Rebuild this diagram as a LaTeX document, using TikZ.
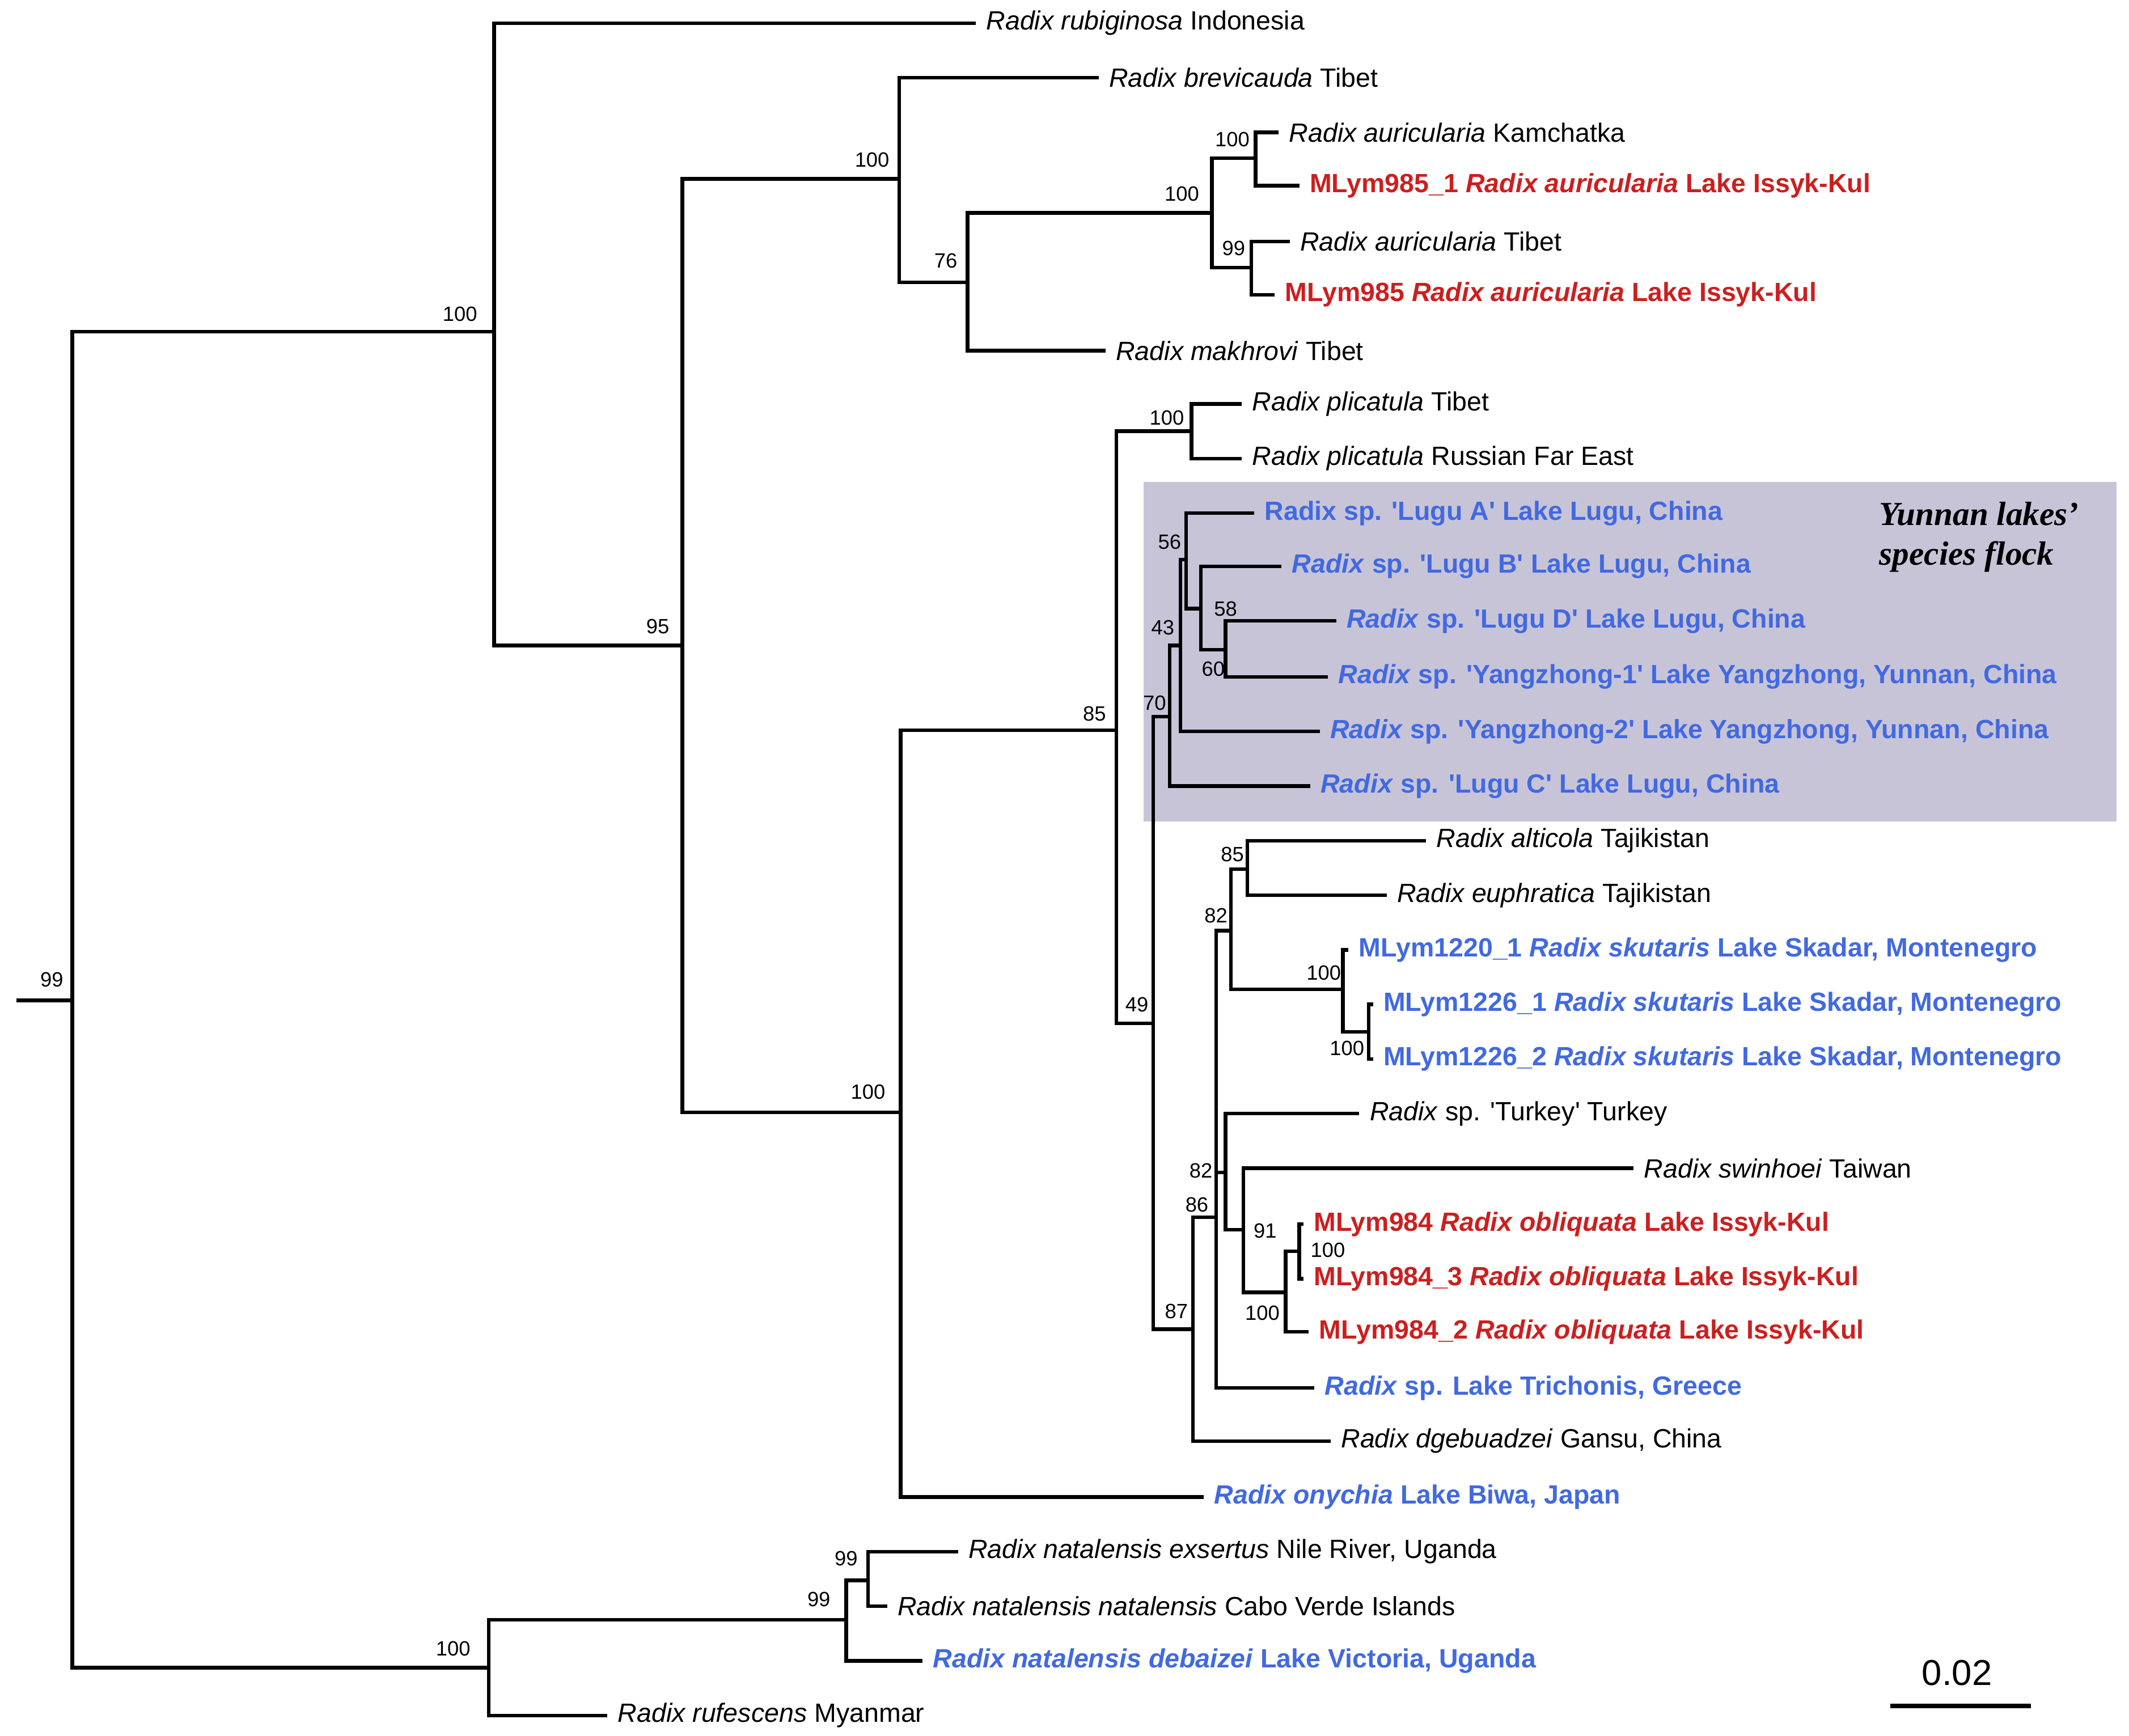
\documentclass[tikz,border=0pt]{standalone}
\usepackage{fontspec}
\setmainfont{Liberation Sans}
\newfontfamily\yunserif{Liberation Serif}
\definecolor{myred}{HTML}{CC1F1F}
\definecolor{myblue}{HTML}{4169E1}
\definecolor{boxfill}{HTML}{C8C4D8}
\begin{document}
\begin{tikzpicture}[x=0.01cm,y=-0.01cm,
  br/.style={line width=0.75pt},
  lf/.style={anchor=west,inner sep=0pt,font=\fontsize{5.5}{6}\selectfont,xshift=0.07cm},
  rd/.style={lf,text=myred,font=\fontsize{5.5}{6}\selectfont\bfseries},
  bl/.style={lf,text=myblue,font=\fontsize{5.5}{6}\selectfont\bfseries},
  bs/.style={inner sep=0pt,font=\fontsize{4.3}{5}\selectfont}]
\useasboundingbox (0,0) rectangle (1560,1272);
\fill[boxfill] (838,353) rectangle (1551,602);
\node[anchor=north east,inner sep=0pt,align=left,font=\fontsize{7}{8.3}\selectfont\yunserif\bfseries\itshape] (yun) at (1524,367) {Yunnan lakes’\\species flock};
% internal nodes
\coordinate (root) at (53,733); \coordinate (stub) at (12,733);
\coordinate (A) at (362,243); \coordinate (B) at (500,473); \coordinate (C) at (659,131);
\coordinate (D) at (709,207); \coordinate (E) at (888,156); \coordinate (F) at (920,116);
\coordinate (G) at (917,196); \coordinate (H) at (660,815); \coordinate (I) at (818,535);
\coordinate (J) at (873,316); \coordinate (K) at (845,750); \coordinate (L) at (857,525);
\coordinate (N) at (865,473); \coordinate (O) at (869,410); \coordinate (P) at (880,446);
\coordinate (Q) at (898,476); \coordinate (M) at (874,974); \coordinate (R) at (891,892);
\coordinate (S) at (902,682); \coordinate (V) at (914,637); \coordinate (W) at (984,725);
\coordinate (X) at (1003,756); \coordinate (U) at (898,859); \coordinate (Y) at (911,901);
\coordinate (Z) at (942,947); \coordinate (AA) at (952,917); \coordinate (N2) at (358,1222);
\coordinate (T) at (620,1187); \coordinate (T2) at (636,1158);
% leaf tips
\coordinate (rub) at (715,17); \coordinate (brev) at (805,57); \coordinate (aurK) at (937,97);
\coordinate (m9851) at (952,136); \coordinate (aurT) at (945,177); \coordinate (m985) at (934,216);
\coordinate (makh) at (810,257); \coordinate (plT) at (910,296); \coordinate (plR) at (910,336);
\coordinate (LA) at (919,376); \coordinate (LB) at (939,415); \coordinate (LD) at (979,455);
\coordinate (Y1) at (973,496); \coordinate (Y2) at (967,536); \coordinate (LC) at (960,576);
\coordinate (alt) at (1045,616); \coordinate (euph) at (1016,656); \coordinate (m1220) at (988,696);
\coordinate (m12261) at (1006,736); \coordinate (m12262) at (1006,776); \coordinate (turk) at (996,816);
\coordinate (swin) at (1197,856); \coordinate (m984) at (955,897); \coordinate (m9843) at (955,937);
\coordinate (m9842) at (959,976); \coordinate (trich) at (963,1017); \coordinate (dgeb) at (975,1056);
\coordinate (ony) at (882,1097); \coordinate (exs) at (702,1137); \coordinate (nat) at (650,1177);
\coordinate (deb) at (676,1217); \coordinate (ruf) at (445,1257);
% branches
\draw[br] (stub) -- (root);
\draw[br] (root) |- (A); \draw[br] (root) |- (N2);
\draw[br] (A) |- (rub); \draw[br] (A) |- (B);
\draw[br] (B) |- (C); \draw[br] (B) |- (H);
\draw[br] (C) |- (brev); \draw[br] (C) |- (D);
\draw[br] (D) |- (E); \draw[br] (D) |- (makh);
\draw[br] (E) |- (F); \draw[br] (E) |- (G);
\draw[br] (F) |- (aurK); \draw[br] (F) |- (m9851);
\draw[br] (G) |- (aurT); \draw[br] (G) |- (m985);
\draw[br] (H) |- (I); \draw[br] (H) |- (ony);
\draw[br] (I) |- (J); \draw[br] (I) |- (K);
\draw[br] (J) |- (plT); \draw[br] (J) |- (plR);
\draw[br] (K) |- (L); \draw[br] (K) |- (M);
\draw[br] (L) |- (N); \draw[br] (L) |- (LC);
\draw[br] (N) |- (O); \draw[br] (N) |- (Y2);
\draw[br] (O) |- (LA); \draw[br] (O) |- (P);
\draw[br] (P) |- (LB); \draw[br] (P) |- (Q);
\draw[br] (Q) |- (LD); \draw[br] (Q) |- (Y1);
\draw[br] (M) |- (R); \draw[br] (M) |- (dgeb);
\draw[br] (R) |- (S); \draw[br] (R) |- (U); \draw[br] (R) |- (trich);
\draw[br] (S) |- (V); \draw[br] (S) |- (W);
\draw[br] (V) |- (alt); \draw[br] (V) |- (euph);
\draw[br] (W) |- (m1220); \draw[br] (W) |- (X);
\draw[br] (X) |- (m12261); \draw[br] (X) |- (m12262);
\draw[br] (U) |- (turk); \draw[br] (U) |- (Y);
\draw[br] (Y) |- (swin); \draw[br] (Y) |- (Z);
\draw[br] (Z) |- (AA); \draw[br] (Z) |- (m9842);
\draw[br] (AA) |- (m984); \draw[br] (AA) |- (m9843);
\draw[br] (N2) |- (T); \draw[br] (N2) |- (ruf);
\draw[br] (T) |- (T2); \draw[br] (T) |- (deb);
\draw[br] (T2) |- (exs); \draw[br] (T2) |- (nat);
% leaf labels
\node[lf] (trub) at (rub) {\textit{Radix rubiginosa} Indonesia};
\node[lf] (tbrev) at (brev) {\textit{Radix brevicauda} Tibet};
\node[lf] (taurK) at (aurK) {\textit{Radix auricularia} Kamchatka};
\node[rd] (tm9851) at (m9851) {MLym985\_1 \textit{Radix auricularia} Lake Issyk-Kul};
\node[lf] (taurT) at (aurT) {\textit{Radix auricularia} Tibet};
\node[rd] (tm985) at (m985) {MLym985 \textit{Radix auricularia} Lake Issyk-Kul};
\node[lf] (tmakh) at (makh) {\textit{Radix makhrovi} Tibet};
\node[lf] (tplT) at (plT) {\textit{Radix plicatula} Tibet};
\node[lf] (tplR) at (plR) {\textit{Radix plicatula} Russian Far East};
\node[bl] (tLA) at (LA) {Radix sp. \textquotesingle Lugu A\textquotesingle\ Lake Lugu, China};
\node[bl] (tLB) at (LB) {\textit{Radix} sp. \textquotesingle Lugu B\textquotesingle\ Lake Lugu, China};
\node[bl] (tLD) at (LD) {\textit{Radix} sp. \textquotesingle Lugu D\textquotesingle\ Lake Lugu, China};
\node[bl] (tY1) at (Y1) {\textit{Radix} sp. \textquotesingle Yangzhong-1\textquotesingle\ Lake Yangzhong, Yunnan, China};
\node[bl] (tY2) at (Y2) {\textit{Radix} sp. \textquotesingle Yangzhong-2\textquotesingle\ Lake Yangzhong, Yunnan, China};
\node[bl] (tLC) at (LC) {\textit{Radix} sp. \textquotesingle Lugu C\textquotesingle\ Lake Lugu, China};
\node[lf] (talt) at (alt) {\textit{Radix alticola} Tajikistan};
\node[lf] (teuph) at (euph) {\textit{Radix euphratica} Tajikistan};
\node[bl] (tm1220) at (m1220) {MLym1220\_1 \textit{Radix skutaris} Lake Skadar, Montenegro};
\node[bl] (tm12261) at (m12261) {MLym1226\_1 \textit{Radix skutaris} Lake Skadar, Montenegro};
\node[bl] (tm12262) at (m12262) {MLym1226\_2 \textit{Radix skutaris} Lake Skadar, Montenegro};
\node[lf] (tturk) at (turk) {\textit{Radix} sp. \textquotesingle Turkey\textquotesingle\ Turkey};
\node[lf] (tswin) at (swin) {\textit{Radix swinhoei} Taiwan};
\node[rd] (tm984) at (m984) {MLym984 \textit{Radix obliquata} Lake Issyk-Kul};
\node[rd] (tm9843) at (m9843) {MLym984\_3 \textit{Radix obliquata} Lake Issyk-Kul};
\node[rd] (tm9842) at (m9842) {MLym984\_2 \textit{Radix obliquata} Lake Issyk-Kul};
\node[bl] (ttrich) at (trich) {\textit{Radix} sp. Lake Trichonis, Greece};
\node[lf] (tdgeb) at (dgeb) {\textit{Radix dgebuadzei} Gansu, China};
\node[bl] (tony) at (ony) {\textit{Radix onychia} Lake Biwa, Japan};
\node[lf] (texs) at (exs) {\textit{Radix natalensis exsertus} Nile River, Uganda};
\node[lf] (tnat) at (nat) {\textit{Radix natalensis natalensis} Cabo Verde Islands};
\node[bl] (tdeb) at (deb) {\textit{Radix natalensis debaizei} Lake Victoria, Uganda};
\node[lf] (truf) at (ruf) {\textit{Radix rufescens} Myanmar};
% bootstrap values
\node[bs] (b1) at (38,718) {99};
\node[bs] (b2) at (337,230) {100};
\node[bs] (b3) at (482,459) {95};
\node[bs] (b4) at (639,117) {100};
\node[bs] (b5) at (693,191) {76};
\node[bs] (b6) at (866,142) {100};
\node[bs] (b7) at (903,102) {100};
\node[bs] (b8) at (904,182) {99};
\node[bs] (b9) at (855,306) {100};
\node[bs] (b10) at (802,523) {85};
\node[bs] (b11) at (636,800) {100};
\node[bs] (b12) at (833,736) {49};
\node[bs] (b13) at (846,515) {70};
\node[bs] (b14) at (852,460) {43};
\node[bs] (b15) at (857,397) {56};
\node[bs] (b16) at (898,446) {58};
\node[bs] (b17) at (889,490) {60};
\node[bs] (b18) at (862,961) {87};
\node[bs] (b19) at (877,883) {86};
\node[bs] (b20) at (891,671) {82};
\node[bs] (b21) at (903,626) {85};
\node[bs] (b22) at (970,713) {100};
\node[bs] (b23) at (987,768) {100};
\node[bs] (b24) at (880,858) {82};
\node[bs] (b25) at (927,902) {91};
\node[bs] (b26) at (973,916) {100};
\node[bs] (b27) at (925,962) {100};
\node[bs] (b28) at (332,1208) {100};
\node[bs] (b29) at (600,1172) {99};
\node[bs] (b30) at (620,1142) {99};
% scale bar
\coordinate (sb1) at (1385,1250); \coordinate (sb2) at (1488,1250);
\draw[line width=1pt] (sb1) -- (sb2);
\node[inner sep=0pt,font=\fontsize{7.5}{8}\selectfont] (sbl) at (1434,1226) {0.02};
\end{tikzpicture}
\end{document}
